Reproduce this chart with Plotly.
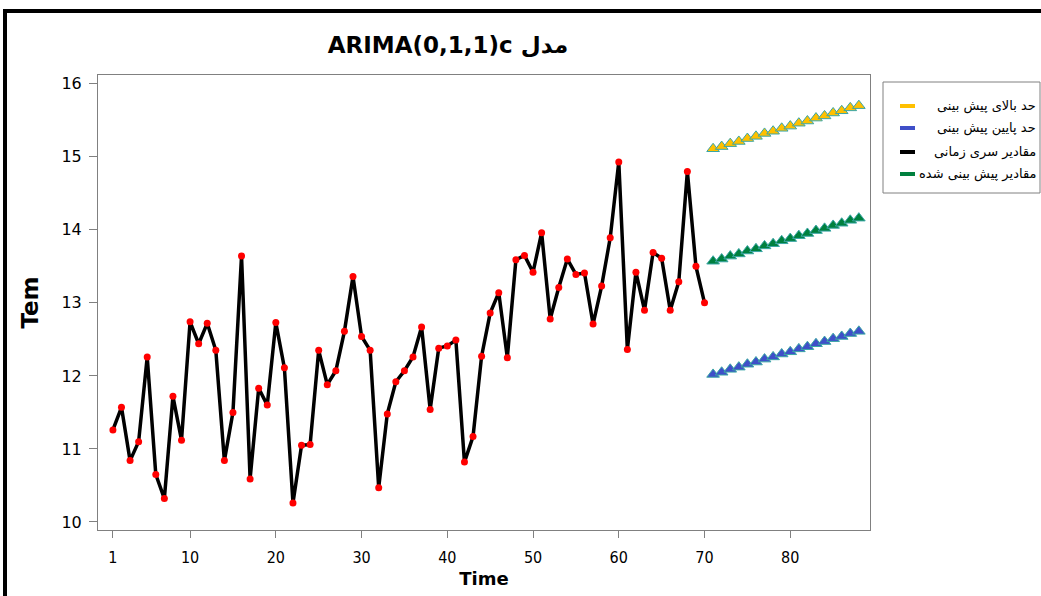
import plotly.graph_objects as go

time_idx = list(range(1, 71))
tem = [11.26, 11.57, 10.84, 11.10, 12.26, 10.65, 10.32, 11.72, 11.12, 12.74,
       12.44, 12.72, 12.35, 10.84, 11.50, 13.64, 10.59, 11.83, 11.60, 12.73,
       12.11, 10.26, 11.05, 11.06, 12.35, 11.88, 12.07, 12.61, 13.36, 12.54,
       12.35, 10.47, 11.48, 11.92, 12.07, 12.26, 12.67, 11.54, 12.38, 12.41,
       12.49, 10.82, 11.17, 12.27, 12.86, 13.14, 12.25, 13.59, 13.65, 13.42,
       13.96, 12.78, 13.21, 13.60, 13.39, 13.41, 12.71, 13.23, 13.89, 14.93,
       12.36, 13.42, 12.90, 13.69, 13.61, 12.90, 13.29, 14.80, 13.50, 13.00]

fc_idx = list(range(71, 89))
forecast = [13.57, 13.60, 13.64, 13.67, 13.71, 13.74, 13.78, 13.81, 13.85,
            13.88, 13.92, 13.95, 13.99, 14.02, 14.06, 14.09, 14.13, 14.16]
upper = [15.11, 15.14, 15.18, 15.21, 15.25, 15.28, 15.32, 15.35, 15.39,
         15.42, 15.46, 15.49, 15.53, 15.56, 15.60, 15.63, 15.67, 15.70]
lower = [12.02, 12.05, 12.09, 12.12, 12.16, 12.19, 12.23, 12.26, 12.30,
         12.33, 12.37, 12.40, 12.44, 12.47, 12.51, 12.54, 12.58, 12.61]

legend_labels = ["حد بالای پیش بینی", "حد پایین پیش بینی", "مقادیر سری زمانی", "مقادیر پیش بینی شده"]
legend_colors = ["#FFC000", "#3F4FC8", "#000000", "#00803E"]

x_ticks = [1, 10, 20, 30, 40, 50, 60, 70, 80]
y_ticks = [10, 11, 12, 13, 14, 15, 16]

fig = go.Figure()
fig.add_trace(go.Scatter(x=time_idx, y=tem, mode="lines+markers",
                         line=dict(color="black", width=3.5),
                         marker=dict(color="#FF0000", size=7),
                         name=legend_labels[2]))
tri_line = dict(color="#3AA6A6", width=1)
fig.add_trace(go.Scatter(x=fc_idx, y=upper, mode="markers",
                         marker=dict(symbol="triangle-up", color=legend_colors[0], size=11, line=tri_line),
                         name=legend_labels[0]))
fig.add_trace(go.Scatter(x=fc_idx, y=forecast, mode="markers",
                         marker=dict(symbol="triangle-up", color=legend_colors[3], size=11, line=tri_line),
                         name=legend_labels[3]))
fig.add_trace(go.Scatter(x=fc_idx, y=lower, mode="markers",
                         marker=dict(symbol="triangle-up", color=legend_colors[1], size=11, line=tri_line),
                         name=legend_labels[1]))

W, H = 1041, 596
# plot area in page pixels: x 98..870, y 75..530
L, T = 98, 75
R = W - 870
B = H - 530
pw, ph = W - L - R, H - T - B


def px(X):
    return (X - L) / pw


def py(Y):
    return (H - B - Y) / ph


shapes = []
# outer frame
shapes.append(dict(type="rect", xref="paper", yref="paper",
                   x0=px(5), x1=px(1120), y0=py(11), y1=py(640),
                   line=dict(color="black", width=4), fillcolor="rgba(0,0,0,0)", layer="below"))
# legend box
shapes.append(dict(type="rect", xref="paper", yref="paper",
                   x0=px(883), x1=px(1040), y0=py(82), y1=py(193),
                   line=dict(color="#808080", width=1), fillcolor="white"))
annotations = []
rows_y = [106, 128, 152, 174]
for lab, col, yy in zip(legend_labels, legend_colors, rows_y):
    shapes.append(dict(type="line", xref="paper", yref="paper",
                       x0=px(900), x1=px(915), y0=py(yy), y1=py(yy),
                       line=dict(color=col, width=4)))
    annotations.append(dict(xref="paper", yref="paper", x=px(1038), y=py(yy),
                            text=lab, showarrow=False, xanchor="right", yanchor="middle",
                            font=dict(family="DejaVu Sans", size=13, color="black")))

fig.update_layout(
    width=W, height=H,
    margin=dict(l=L, r=R, t=T, b=B, autoexpand=False),
    paper_bgcolor="white", plot_bgcolor="white",
    showlegend=False,
    title=dict(text="<b>ARIMA(0,1,1)c مدل</b>", x=px(448), xref="paper", xanchor="center",
               y=1 - 45 / H, yanchor="middle",
               font=dict(family="DejaVu Sans", size=23, color="black")),
    shapes=shapes, annotations=annotations,
    xaxis=dict(range=[-0.74, 89.3], tickvals=x_ticks, ticks="outside", ticklen=7,
               tickcolor="#808080", showline=True, linecolor="#808080", linewidth=1,
               mirror=True, showgrid=False, zeroline=False, ticklabelstandoff=6,
               tickfont=dict(family="DejaVu Sans Condensed", size=16, color="black"),
               title=dict(text="<b>Time</b>", standoff=6,
                          font=dict(family="DejaVu Sans", size=18, color="black"))),
    yaxis=dict(range=[9.89, 16.12], tickvals=y_ticks, ticks="outside", ticklen=8,
               tickcolor="#808080", showline=True, linecolor="#808080", linewidth=1,
               mirror=True, showgrid=False, zeroline=False, ticklabelstandoff=4,
               tickfont=dict(family="DejaVu Sans", size=16, color="black"),
               title=dict(text="<b>Tem</b>", standoff=16,
                          font=dict(family="DejaVu Sans", size=23, color="black"))),
)

fig.write_html("out.html", config={"displayModeBar": False},
               post_script="document.body.style.margin='0';document.body.style.overflow='hidden';")
